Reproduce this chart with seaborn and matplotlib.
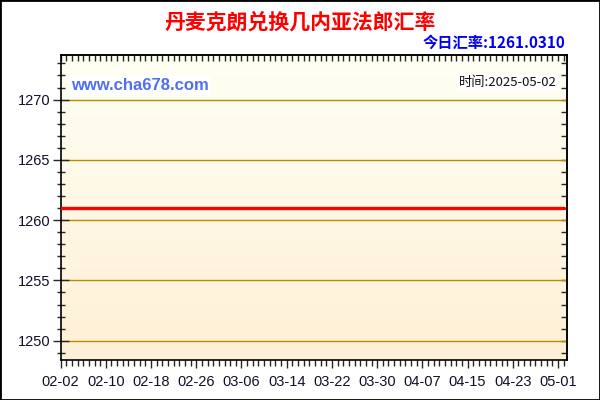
import matplotlib

matplotlib.use('Agg')
import matplotlib.dates as mdates
import matplotlib.pyplot as plt
import numpy as np
import pandas as pd
import seaborn as sns
from matplotlib.patches import Rectangle
from matplotlib.ticker import FixedLocator, MultipleLocator

# %% Data

dates = ['2025-02-02', '2025-05-02']
rates = [1261.0310, 1261.0310]
tick_dates = ['02-02', '02-10', '02-18', '02-26', '03-06', '03-14',
              '03-22', '03-30', '04-07', '04-15', '04-23', '05-01']
title = '丹麦克朗兑换几内亚法郎汇率'
today_label = '今日汇率:1261.0310'
time_label = '时间:2025-05-02'
site_label = 'www.cha678.com'

df = pd.DataFrame({'date': pd.to_datetime(dates), 'rate': rates})
tick_pos = mdates.date2num(pd.to_datetime(['2025-' + d for d in tick_dates]))

# %% Style

sns.set_theme(style='white')
plt.rcParams['font.family'] = ['Liberation Sans', 'Noto Sans CJK SC', 'DejaVu Sans']
CJK = ['Noto Sans CJK SC', 'DejaVu Sans']

fig = plt.figure(figsize=(6, 4), dpi=100)
ax = fig.add_axes([0.101, 0.1, 0.844, 0.7625])

# gradient background of the plot area
grad = np.linspace(0, 1, 256).reshape(-1, 1)
top_c = np.array([255, 255, 244]) / 255
bot_c = np.array([254, 240, 214]) / 255
img = top_c + (bot_c - top_c) * grad[:, :, None]
ax.imshow(img, extent=[0, 1, 0, 1], transform=ax.transAxes,
          aspect='auto', zorder=0)

sns.lineplot(data=df, x='date', y='rate', color='#FF0000', linewidth=2.4,
             ax=ax, zorder=3)

ax.set_xlim(pd.Timestamp('2025-02-02'), pd.Timestamp('2025-05-02') + pd.Timedelta(hours=14))
ax.set_ylim(1248.4, 1273.7)
ax.set_xlabel('')
ax.set_ylabel('')

ax.yaxis.set_major_locator(MultipleLocator(5))
ax.yaxis.set_minor_locator(MultipleLocator(1))
ax.xaxis.set_major_locator(FixedLocator(tick_pos))
ax.xaxis.set_major_formatter(mdates.DateFormatter('%m-%d'))
ax.xaxis.set_minor_locator(mdates.DayLocator())

ax.yaxis.grid(True, which='major', color='#C08A00', linewidth=1)
ax.xaxis.grid(False)
ax.set_axisbelow(True)

for s in ax.spines.values():
    s.set_color('black')
    s.set_linewidth(1.2)

ax.tick_params(axis='y', which='major', direction='inout', length=11, width=1,
               left=True, labelsize=10.5, labelcolor='#10102a', pad=2)
ax.tick_params(axis='y', which='minor', direction='inout', length=6, width=1,
               left=True)
ax.tick_params(axis='x', which='major', direction='out', length=6, width=1,
               bottom=True, labelsize=10.5, labelcolor='#10102a', pad=5)
ax.tick_params(axis='x', which='minor', direction='out', length=4, width=1,
               bottom=True)

# inward ticks on the top and right edges
top = ax.secondary_xaxis('top')
top.xaxis.set_major_locator(mdates.DayLocator())
top.tick_params(direction='in', length=4, width=1, top=True, labeltop=False)
top.spines['top'].set_linewidth(1.2)
right = ax.secondary_yaxis('right')
right.yaxis.set_major_locator(MultipleLocator(1))
right.tick_params(direction='in', length=4, width=1, right=True, labelright=False)
right.spines['right'].set_linewidth(1.2)

# %% Texts

fig.text(0.5, 0.945, title, color='#FF0000', fontsize=15, fontweight='bold',
         ha='center', va='center', family=CJK)
fig.text(0.942, 0.8925, today_label, color='#0000EE', fontsize=11,
         fontweight='bold', ha='right', va='center', family=CJK)
ax.text(0.02, 0.90, site_label, transform=ax.transAxes, color='#4F6FEF',
        fontsize=12, fontweight='bold', ha='left', va='center',
        bbox=dict(facecolor='white', edgecolor='none', pad=1.5), zorder=4)
ax.text(0.979, 0.911, time_label, transform=ax.transAxes, color='#111111',
        fontsize=9.5, ha='right', va='center', family=CJK,
        bbox=dict(facecolor='white', edgecolor='none', pad=1.5), zorder=4)

fig.patches.append(Rectangle((0, 0), 1, 1, transform=fig.transFigure,
                             fill=False, edgecolor='black', linewidth=2))

fig.savefig('out.png', dpi=100)
plt.close(fig)
